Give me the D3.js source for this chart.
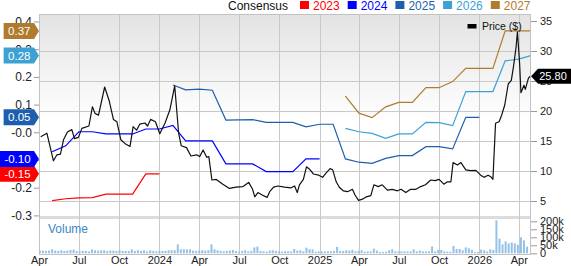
<!DOCTYPE html>
<html>
<head>
<meta charset="utf-8">
<script src="https://cdn.jsdelivr.net/npm/d3@7"></script>
<style>
    body { margin: 0; background: #fff; }
    svg text { font-family: "Liberation Sans", Arial, sans-serif; }
</style>
</head>
<body>
<svg id="chart" width="571" height="266"></svg>
<script>
// price ($)
const priceData = [
    ["2023-04-05", 15.7], ["2023-04-19", 16.3], ["2023-05-04", 11.7], ["2023-05-12", 12.7],
    ["2023-05-20", 12.8], ["2023-05-27", 15.2], ["2023-06-05", 16.5], ["2023-06-15", 16.9],
    ["2023-06-21", 15.4], ["2023-06-30", 15.6], ["2023-07-08", 17.1], ["2023-07-24", 17.5],
    ["2023-08-01", 20.7], ["2023-08-07", 19.6], ["2023-08-15", 19.3], ["2023-08-29", 24.0],
    ["2023-09-08", 21.8], ["2023-09-18", 18.6], ["2023-09-26", 18.2], ["2023-10-05", 15.2],
    ["2023-10-14", 14.6], ["2023-10-26", 14.1], ["2023-11-02", 17.4], ["2023-11-10", 16.8],
    ["2023-11-17", 17.8], ["2023-11-29", 18.0], ["2023-12-05", 17.5], ["2023-12-12", 18.6],
    ["2023-12-23", 18.2], ["2024-01-02", 16.2], ["2024-01-14", 18.0], ["2024-01-25", 20.2],
    ["2024-02-05", 24.2], ["2024-02-14", 16.3], ["2024-02-20", 14.2], ["2024-03-03", 13.9],
    ["2024-03-13", 12.5], ["2024-03-26", 12.7], ["2024-04-02", 12.4], ["2024-04-10", 13.5],
    ["2024-04-18", 12.3], ["2024-04-23", 12.4], ["2024-04-30", 8.5], ["2024-05-10", 8.6],
    ["2024-05-25", 7.8], ["2024-06-09", 7.1], ["2024-06-24", 7.3], ["2024-07-10", 7.4],
    ["2024-07-23", 8.1], ["2024-08-01", 6.95], ["2024-08-06", 5.7], ["2024-08-13", 6.4],
    ["2024-08-23", 6.0], ["2024-09-03", 5.6], ["2024-09-09", 6.55], ["2024-09-18", 7.3],
    ["2024-09-28", 7.5], ["2024-10-13", 7.3], ["2024-10-28", 7.2], ["2024-11-05", 7.5],
    ["2024-11-11", 6.4], ["2024-11-16", 7.7], ["2024-11-25", 8.6], ["2024-12-02", 10.7],
    ["2024-12-09", 10.3], ["2024-12-18", 9.5], ["2024-12-30", 9.3], ["2025-01-08", 8.95],
    ["2025-01-16", 9.7], ["2025-01-25", 10.4], ["2025-01-31", 10.2], ["2025-02-08", 8.2],
    ["2025-02-15", 7.3], ["2025-02-24", 6.7], ["2025-03-06", 6.55], ["2025-03-17", 6.95],
    ["2025-03-23", 6.0], ["2025-03-31", 5.1], ["2025-04-09", 5.3], ["2025-04-18", 5.7],
    ["2025-04-28", 5.9], ["2025-05-05", 7.7], ["2025-05-15", 7.4], ["2025-05-24", 7.7],
    ["2025-06-05", 6.8], ["2025-06-16", 6.95], ["2025-06-28", 6.7], ["2025-07-06", 6.95],
    ["2025-07-17", 6.4], ["2025-07-28", 6.95], ["2025-08-09", 6.95], ["2025-08-20", 7.4],
    ["2025-08-31", 7.7], ["2025-09-12", 8.5], ["2025-09-22", 8.4], ["2025-10-01", 8.6],
    ["2025-10-12", 7.8], ["2025-10-20", 8.2], ["2025-10-28", 8.2], ["2025-11-02", 11.4],
    ["2025-11-12", 11.0], ["2025-11-20", 11.4], ["2025-12-01", 10.2], ["2025-12-12", 10.05],
    ["2025-12-24", 10.1], ["2026-01-04", 9.3], ["2026-01-12", 8.95], ["2026-01-21", 9.3],
    ["2026-01-27", 9.05], ["2026-02-01", 8.6], ["2026-02-07", 17.95], ["2026-02-15", 18.2],
    ["2026-02-21", 19.3], ["2026-02-28", 21.0], ["2026-03-08", 24.5], ["2026-03-15", 25.1],
    ["2026-03-20", 27.4], ["2026-03-26", 30.7], ["2026-03-29", 33.2], ["2026-04-03", 27.9],
    ["2026-04-06", 23.05], ["2026-04-13", 24.3], ["2026-04-16", 23.6], ["2026-04-23", 25.45],
    ["2026-04-27", 25.8]
];

// consensus EPS estimates per fiscal year
const eps2023 = [
    ["2023-05-01", -0.247], ["2023-06-01", -0.240], ["2023-07-01", -0.237], ["2023-08-01", -0.236],
    ["2023-09-01", -0.223], ["2023-10-01", -0.223], ["2023-11-01", -0.223], ["2023-12-01", -0.15],
    ["2024-01-01", -0.15]
];
const eps2024 = [
    ["2023-05-01", -0.07], ["2023-06-01", -0.049], ["2023-07-01", 0.002], ["2023-08-01", 0.002],
    ["2023-09-01", -0.006], ["2023-10-01", -0.006], ["2023-11-01", -0.006], ["2023-12-01", 0.012],
    ["2024-01-01", 0.012], ["2024-02-01", 0.025], ["2024-03-01", -0.031], ["2024-04-01", -0.031],
    ["2024-05-01", -0.031], ["2024-06-01", -0.114], ["2024-07-01", -0.114], ["2024-08-01", -0.114],
    ["2024-09-01", -0.142], ["2024-10-01", -0.142], ["2024-11-01", -0.142], ["2024-12-01", -0.096],
    ["2025-01-01", -0.096]
];
const eps2025 = [
    ["2024-02-01", 0.171], ["2024-03-01", 0.153], ["2024-04-01", 0.156], ["2024-05-01", 0.152],
    ["2024-06-01", 0.044], ["2024-07-01", 0.045], ["2024-08-01", 0.046], ["2024-09-01", 0.036],
    ["2024-10-01", 0.036], ["2024-11-01", 0.036], ["2024-12-01", 0.020], ["2025-01-01", 0.029],
    ["2025-02-01", 0.029], ["2025-03-01", -0.096], ["2025-04-01", -0.108], ["2025-05-01", -0.112],
    ["2025-06-01", -0.094], ["2025-07-01", -0.084], ["2025-08-01", -0.084], ["2025-09-01", -0.052],
    ["2025-10-01", -0.052], ["2025-11-01", -0.060], ["2025-12-01", 0.054], ["2026-01-01", 0.054]
];
const eps2026 = [
    ["2025-03-01", 0.014], ["2025-04-01", 0.002], ["2025-05-01", -0.004], ["2025-06-01", -0.022],
    ["2025-07-01", -0.006], ["2025-08-01", -0.006], ["2025-09-01", 0.036], ["2025-10-01", 0.035],
    ["2025-11-01", 0.024], ["2025-12-01", 0.147], ["2026-01-01", 0.147], ["2026-02-01", 0.147],
    ["2026-03-01", 0.258], ["2026-04-01", 0.264], ["2026-04-28", 0.277]
];
const eps2027 = [
    ["2025-03-01", 0.131], ["2025-04-01", 0.069], ["2025-05-01", 0.053], ["2025-06-01", 0.092],
    ["2025-07-01", 0.108], ["2025-08-01", 0.108], ["2025-09-01", 0.161], ["2025-10-01", 0.161],
    ["2025-11-01", 0.183], ["2025-12-01", 0.231], ["2026-01-01", 0.231], ["2026-02-01", 0.231],
    ["2026-03-01", 0.366], ["2026-04-01", 0.366], ["2026-04-28", 0.366]
];

// weekly volume in thousands, first week starting 2023-04-03
const volumeStart = "2023-04-03";
const volumeK = [
    17, 17, 15, 17, 25, 17, 15, 19, 15, 17, 21, 23, 14, 12, 15, 15, 12, 25, 19, 17,
    19, 19, 15, 17, 17, 15, 19, 15, 15, 15, 25, 15, 19, 15, 19, 12, 19, 15, 12, 15,
    15, 15, 19, 19, 19, 56, 25, 25, 25, 25, 17, 15, 17, 19, 17, 19, 56, 25, 19, 15,
    12, 15, 17, 21, 15, 10, 15, 19, 12, 15, 37, 42, 15, 12, 10, 17, 19, 15, 12, 10,
    12, 12, 12, 27, 17, 19, 12, 35, 25, 25, 10, 12, 12, 12, 12, 12, 15, 40, 15, 15,
    19, 17, 21, 12, 15, 19, 10, 12, 12, 29, 17, 8, 8, 10, 19, 25, 12, 12, 12, 12,
    12, 12, 25, 12, 17, 12, 12, 12, 42, 12, 21, 21, 12, 10, 10, 46, 27, 27, 19, 37,
    31, 21, 8, 8, 23, 19, 12, 25, 21, 206, 92, 56, 75, 62, 67, 62, 54, 100, 81, 42
];

const seriesNames = ["2023", "2024", "2025", "2026", "2027"];
const seriesColors = ["#ff0000", "#0000ff", "#1d5fae", "#3da1d3", "#b07b2d"];
const epsSeries = [eps2023, eps2024, eps2025, eps2026, eps2027];

const dateTicks = ["2023-04-01", "2023-07-01", "2023-10-01", "2024-01-01", "2024-04-01", "2024-07-01",
    "2024-10-01", "2025-01-01", "2025-04-01", "2025-07-01", "2025-10-01", "2026-01-01", "2026-04-01"];
const priceTicks = [5, 10, 15, 20, 25, 30, 35];
const epsTicks = [0.4, 0.3, 0.2, 0.1, 0, -0.1, -0.2, -0.3];
const volumeTicks = [0, 50, 100, 150, 200];

const parse = d3.timeParse("%Y-%m-%d");
const font = '"Liberation Sans", Arial, sans-serif';

const box = { left: 39, right: 531, top: 14, mainBottom: 217, volTop: 219, volBottom: 254 };

const svg = d3.select("#chart");

const x = d3.scaleTime()
    .domain([parse("2023-04-01"), parse("2026-04-29")])
    .range([box.left, box.right]);

const yPrice = d3.scaleLinear()
    .domain([2.333, 36.167])
    .range([box.mainBottom, box.top]);

const yEps = d3.scaleLinear()
    .domain([-0.3058, 0.4271])
    .range([box.mainBottom, box.top]);

const yVol = d3.scaleLinear()
    .domain([0, 200])
    .range([253.3, 221.3]);

// background
const defs = svg.append("defs");
const grad = defs.append("linearGradient")
    .attr("id", "bg")
    .attr("x1", 0).attr("y1", 0).attr("x2", 0).attr("y2", 1);
grad.append("stop").attr("offset", "0%").attr("stop-color", "#e3e3e3");
grad.append("stop").attr("offset", "52%").attr("stop-color", "#ffffff");
grad.append("stop").attr("offset", "100%").attr("stop-color", "#ffffff");

svg.append("rect")
    .attr("x", box.left).attr("y", box.top)
    .attr("width", box.right - box.left).attr("height", box.mainBottom - box.top)
    .attr("fill", "url(#bg)");

svg.append("rect")
    .attr("x", box.left).attr("y", box.mainBottom - 1)
    .attr("width", box.right - box.left).attr("height", box.volTop - box.mainBottom + 1)
    .attr("fill", "#dcdcdc");

// grid
svg.append("g")
    .selectAll("line")
    .data(priceTicks.filter(d => d < 35))
    .join("line")
    .attr("x1", box.left).attr("x2", box.right)
    .attr("y1", d => Math.round(yPrice(d)) + 0.5)
    .attr("y2", d => Math.round(yPrice(d)) + 0.5)
    .attr("stroke", "#c9c9c9");

svg.append("g")
    .selectAll("line")
    .data(dateTicks.slice(1))
    .join("line")
    .attr("x1", d => Math.round(x(parse(d))) + 0.5)
    .attr("x2", d => Math.round(x(parse(d))) + 0.5)
    .attr("y1", box.top).attr("y2", box.volBottom)
    .attr("stroke", "#c9c9c9");

// volume
svg.append("g")
    .selectAll("rect")
    .data(volumeK)
    .join("rect")
    .attr("x", (d, i) => x(d3.timeWeek.offset(parse(volumeStart), i)) - 1)
    .attr("y", d => yVol(d))
    .attr("width", 2)
    .attr("height", d => yVol(0) - yVol(d))
    .attr("fill", "#94c1e8");

svg.append("text")
    .attr("x", 48).attr("y", 233)
    .attr("font-size", 12)
    .attr("fill", "#3b87c6")
    .text("Volume");

// consensus lines
const epsLine = d3.line()
    .x(d => x(parse(d[0])))
    .y(d => yEps(d[1]));

epsSeries.forEach((s, i) => {
    svg.append("path")
        .datum(s)
        .attr("fill", "none")
        .attr("stroke", seriesColors[i])
        .attr("stroke-width", 1.2)
        .attr("d", epsLine);
});

// price line
const priceLine = d3.line()
    .x(d => x(parse(d[0])))
    .y(d => yPrice(d[1]));

svg.append("path")
    .datum(priceData)
    .attr("fill", "none")
    .attr("stroke", "#111")
    .attr("stroke-width", 1.2)
    .attr("stroke-linejoin", "round")
    .attr("d", priceLine);

// frame
svg.append("rect")
    .attr("x", box.left + 0.5).attr("y", box.top + 0.5)
    .attr("width", box.right - box.left - 1).attr("height", box.volBottom - box.top)
    .attr("fill", "none")
    .attr("stroke", "#c2c2c2");

// axes
function styleAxis(g, size) {
    g.select(".domain").remove();
    g.selectAll("text").attr("font-family", font).attr("font-size", size).attr("fill", "#222");
    g.selectAll(".tick line").attr("stroke", "#999");
}

svg.append("g")
    .attr("transform", `translate(${box.right},0)`)
    .call(d3.axisRight(yPrice).tickValues(priceTicks).tickSize(6).tickPadding(3))
    .call(g => styleAxis(g, 11));

svg.append("g")
    .attr("transform", `translate(${box.right},0)`)
    .call(d3.axisRight(yVol).tickValues(volumeTicks).tickSize(6).tickPadding(3)
        .tickFormat(d => d === 0 ? "0" : d + "k"))
    .call(g => styleAxis(g, 11));

svg.append("g")
    .attr("transform", `translate(${box.left},0)`)
    .call(d3.axisLeft(yEps).tickValues(epsTicks).tickSize(5).tickPadding(2)
        .tickFormat(d => (d <= 0 ? "-" : "") + Math.abs(d).toFixed(1)))
    .call(g => styleAxis(g, 12));

const monthFmt = d3.timeFormat("%b");
svg.append("g")
    .attr("transform", `translate(0,${box.volBottom})`)
    .call(d3.axisBottom(x).tickValues(dateTicks.map(parse)).tickSize(0).tickPadding(2)
        .tickFormat(d => d.getMonth() === 0 ? d.getFullYear() : monthFmt(d)))
    .call(g => styleAxis(g, 11));

// left value badges
epsSeries.forEach((s, i) => {
    const last = s[s.length - 1][1];
    const label = (last < 0 ? "-" : "") + Math.abs(last).toFixed(2);
    const cy = yEps(last);
    const badge = svg.append("g");
    const path = badge.append("path").attr("fill", seriesColors[i]);
    const t = badge.append("text")
        .attr("y", cy + 4)
        .attr("text-anchor", "middle")
        .attr("font-size", 11.5)
        .attr("fill", "#fff")
        .text(label);
    const w = t.node().getComputedTextLength() + 8;
    const x1 = box.left - 5, x0 = Math.max(0, x1 - w);
    path.attr("d", `M${x0},${cy - 8}H${x1}L${box.left},${cy}L${x1},${cy + 8}H${x0}Z`);
    t.attr("x", (x0 + x1) / 2 + 0.5);
});

// last price badge
const lastPrice = priceData[priceData.length - 1][1];
const py = yPrice(lastPrice);
svg.append("path")
    .attr("d", `M${box.right},${py}L${box.right + 7},${py - 7.5}H571V${py + 7.5}H${box.right + 7}Z`)
    .attr("fill", "#000");
svg.append("text")
    .attr("x", 553).attr("y", py + 4)
    .attr("text-anchor", "middle")
    .attr("font-size", 11)
    .attr("fill", "#fff")
    .text(lastPrice.toFixed(2));

// price legend
svg.append("rect")
    .attr("x", 467.5).attr("y", 24)
    .attr("width", 9).attr("height", 4.5)
    .attr("fill", "#000");
svg.append("text")
    .attr("x", 482).attr("y", 29.5)
    .attr("font-size", 10.5)
    .attr("fill", "#111")
    .text("Price ($)");

// consensus legend
svg.append("text")
    .attr("x", 228).attr("y", 10)
    .attr("font-size", 12)
    .attr("fill", "#111")
    .text("Consensus");

const legend = svg.append("g");
seriesNames.forEach((name, i) => {
    const lx = 300 + i * 47.7;
    legend.append("rect")
        .attr("x", lx).attr("y", 1)
        .attr("width", 9).attr("height", 8)
        .attr("fill", seriesColors[i]);
    legend.append("text")
        .attr("x", lx + 13).attr("y", 10)
        .attr("font-size", 12)
        .attr("fill", seriesColors[i])
        .text(name);
});
</script>
</body>
</html>
